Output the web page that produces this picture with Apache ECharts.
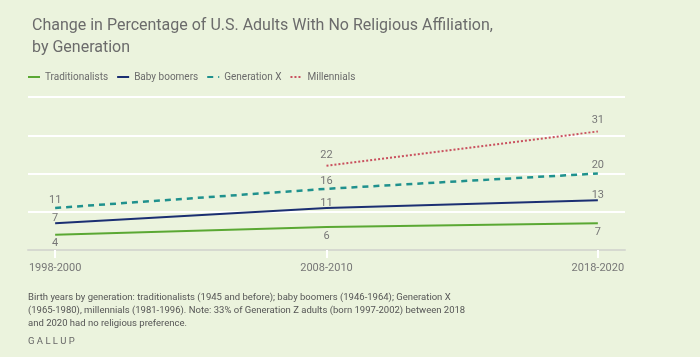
<!DOCTYPE html>
<html>
<head>
<meta charset="utf-8">
<script src="https://cdn.jsdelivr.net/npm/echarts@6/dist/echarts.min.js"></script>
<style>
html,body{margin:0;padding:0;background:#ebf3dd;}
#c{width:700px;height:357px;}
</style>
</head>
<body>
<div id="c"></div>
<script>
var categories = ['1998-2000', '2008-2010', '2018-2020'];
var traditionalists = [4, 6, 7];
var babyBoomers = [7, 11, 13];
var generationX = [11, 16, 20];
var millennials = [null, 22, 31];
var yTicks = [0, 10, 20, 30, 40];

function toPoints(arr) {
  var out = [];
  arr.forEach(function (v, i) { if (v !== null) out.push([i, v]); });
  return out;
}

var chart = echarts.init(document.getElementById('c'), null, {renderer: 'canvas'});
var font = 'Roboto, "Liberation Sans", sans-serif';
var labelStyle = {show: true, color: '#777', fontSize: 11, fontFamily: font, opacity: 1};

function mk(name, arr, color, type, width, pos, dist) {
  return {
    name: name, type: 'line', data: toPoints(arr),
    symbol: 'circle', symbolSize: 1, showSymbol: true, showAllSymbol: true,
    lineStyle: {color: color, width: width, type: type},
    itemStyle: {color: 'rgba(0,0,0,0)', borderWidth: 0},
    label: Object.assign({}, labelStyle, {position: pos, distance: dist}),
    labelLayout: {hideOverlap: false},
    emphasis: {disabled: true},
    animation: false
  };
}

chart.setOption({
  backgroundColor: '#ebf3dd',
  textStyle: {fontFamily: font},
  title: {
    text: 'Change in Percentage of U.S. Adults With No Religious Affiliation,\nby Generation',
    left: 27, top: 10,
    textStyle: {color: '#6b6b6b', fontSize: 16, fontWeight: 'normal', lineHeight: 22, fontFamily: font}
  },
  legend: {
    left: 22, top: 67,
    itemWidth: 12, itemHeight: 8, itemGap: 8,
    itemStyle: {opacity: 0},
    textStyle: {color: '#6b6b6b', fontSize: 10, fontFamily: font},
    data: ['Traditionalists', 'Baby boomers', 'Generation X', 'Millennials']
  },
  grid: {left: 28, right: 75, top: 97, bottom: 107},
  xAxis: {
    type: 'value', min: -0.1, max: 2.1,
    axisLine: {show: true, lineStyle: {color: '#d6d9d0', width: 2}},
    axisTick: {show: true, customValues: [0, 1, 2], length: 8, lineStyle: {color: '#ffffff', width: 2}},
    axisLabel: {show: true, customValues: [0, 1, 2], color: '#777', fontSize: 11, fontFamily: font, margin: 13,
      formatter: function (v) { return categories[Math.round(v)]; }},
    splitLine: {show: false}
  },
  yAxis: {
    type: 'value', min: yTicks[0], max: yTicks[yTicks.length - 1], interval: 10,
    axisLine: {show: false}, axisTick: {show: false}, axisLabel: {show: false},
    splitLine: {show: true, lineStyle: {color: '#ffffff', width: 2}}
  },
  series: [
    mk('Traditionalists', traditionalists, '#5aa833', 'solid', 2, 'bottom', 3),
    mk('Baby boomers', babyBoomers, '#1b2f72', 'solid', 2, 'top', -1),
    mk('Generation X', generationX, '#1f918d', [6, 5], 2.5, 'top', 2),
    mk('Millennials', millennials, '#c9505e', [2, 2], 2, 'top', 5)
  ],
  graphic: [
    {type: 'text', left: 28, top: 291, style: {
      text: 'Birth years by generation: traditionalists (1945 and before); baby boomers (1946-1964); Generation X\n(1965-1980), millennials (1981-1996). Note: 33% of Generation Z adults (born 1997-2002) between 2018\nand 2020 had no religious preference.',
      fill: '#555', fontSize: 9.5, lineHeight: 13, fontFamily: font}},
    {type: 'text', left: 28, top: 337, style: {text: 'G A L L U P', fill: '#666', fontSize: 9.5, fontFamily: font}}
  ]
});
</script>
</body>
</html>
